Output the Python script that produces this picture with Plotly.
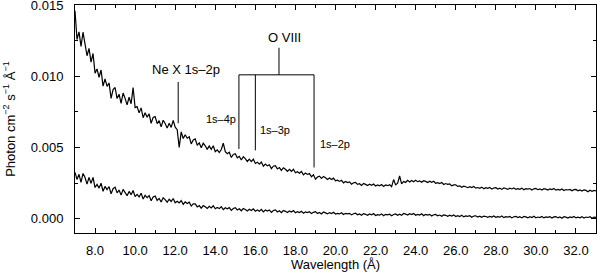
import plotly.graph_objects as go

# Wavelength grid (Angstrom)
WAVELENGTH = [
    7.0, 7.1, 7.2, 7.3, 7.4, 7.5, 7.6, 7.7, 7.8, 7.9,
    8.0, 8.1, 8.2, 8.3, 8.4, 8.5, 8.6, 8.7, 8.8, 8.9,
    9.0, 9.1, 9.2, 9.3, 9.4, 9.5, 9.6, 9.7, 9.8, 9.9,
    10.0, 10.1, 10.2, 10.3, 10.4, 10.5, 10.6, 10.7, 10.8, 10.9,
    11.0, 11.1, 11.2, 11.3, 11.4, 11.5, 11.6, 11.7, 11.8, 11.9,
    12.0, 12.1, 12.2, 12.3, 12.4, 12.5, 12.6, 12.7, 12.8, 12.9,
    13.0, 13.1, 13.2, 13.3, 13.4, 13.5, 13.6, 13.7, 13.8, 13.9,
    14.0, 14.1, 14.2, 14.3, 14.4, 14.5, 14.6, 14.7, 14.8, 14.9,
    15.0, 15.1, 15.2, 15.3, 15.4, 15.5, 15.6, 15.7, 15.8, 15.9,
    16.0, 16.1, 16.2, 16.3, 16.4, 16.5, 16.6, 16.7, 16.8, 16.9,
    17.0, 17.1, 17.2, 17.3, 17.4, 17.5, 17.6, 17.7, 17.8, 17.9,
    18.0, 18.1, 18.2, 18.3, 18.4, 18.5, 18.6, 18.7, 18.8, 18.9,
    19.0, 19.1, 19.2, 19.3, 19.4, 19.5, 19.6, 19.7, 19.8, 19.9,
    20.0, 20.1, 20.2, 20.3, 20.4, 20.5, 20.6, 20.7, 20.8, 20.9,
    21.0, 21.1, 21.2, 21.3, 21.4, 21.5, 21.6, 21.7, 21.8, 21.9,
    22.0, 22.1, 22.2, 22.3, 22.4, 22.5, 22.6, 22.7, 22.8, 22.9,
    23.0, 23.1, 23.2, 23.3, 23.4, 23.5, 23.6, 23.7, 23.8, 23.9,
    24.0, 24.1, 24.2, 24.3, 24.4, 24.5, 24.6, 24.7, 24.8, 24.9,
    25.0, 25.1, 25.2, 25.3, 25.4, 25.5, 25.6, 25.7, 25.8, 25.9,
    26.0, 26.1, 26.2, 26.3, 26.4, 26.5, 26.6, 26.7, 26.8, 26.9,
    27.0, 27.1, 27.2, 27.3, 27.4, 27.5, 27.6, 27.7, 27.8, 27.9,
    28.0, 28.1, 28.2, 28.3, 28.4, 28.5, 28.6, 28.7, 28.8, 28.9,
    29.0, 29.1, 29.2, 29.3, 29.4, 29.5, 29.6, 29.7, 29.8, 29.9,
    30.0, 30.1, 30.2, 30.3, 30.4, 30.5, 30.6, 30.7, 30.8, 30.9,
    31.0, 31.1, 31.2, 31.3, 31.4, 31.5, 31.6, 31.7, 31.8, 31.9,
    32.0, 32.1, 32.2, 32.3, 32.4, 32.5, 32.6, 32.7, 32.8, 32.9,
    33.0,
]

# Upper spectrum flux, in units of 1e-3 photon cm^-2 s^-1 A^-1
UPPER_FLUX_MILLI = [
    14.6, 12.58, 13.11, 12.1, 13.09, 12.37, 11.44, 11.95, 10.99, 11.6,
    10.22, 10.51, 9.93, 10.44, 9.31, 9.82, 9.29, 9.53, 8.45, 9.07,
    9.21, 8.43, 8.74, 8.1, 8.82, 8.45, 7.99, 8.53, 8.07, 9.2,
    7.8, 7.87, 7.43, 7.78, 7.09, 7.44, 7.13, 7.36, 6.7, 7.11,
    7.17, 6.67, 6.89, 6.45, 6.91, 6.68, 6.36, 6.7, 6.41, 6.9,
    6.43, 6.25, 5.0, 6.1, 5.63, 5.9, 5.65, 5.75, 5.25, 5.53,
    5.6, 5.17, 5.32, 4.98, 5.3, 5.12, 4.87, 5.11, 4.88, 5.12,
    4.71, 4.84, 4.65, 4.86, 5.3, 4.71, 4.56, 4.67, 4.3, 4.51,
    4.56, 4.28, 4.38, 4.12, 4.35, 4.22, 4.02, 4.18, 4.01, 4.18,
    3.88, 3.97, 3.83, 3.98, 3.69, 3.84, 3.71, 3.79, 3.52, 3.69,
    3.73, 3.5, 3.59, 3.39, 3.58, 3.47, 3.33, 3.47, 3.33, 3.47,
    3.23, 3.3, 3.19, 3.32, 3.08, 3.21, 3.11, 3.17, 2.95, 3.08,
    2.78, 2.93, 2.99, 2.83, 2.97, 2.88, 2.76, 2.86, 2.75, 2.85,
    2.66, 2.71, 2.62, 2.7, 2.52, 2.62, 2.54, 2.59, 2.43, 2.53,
    2.55, 2.41, 2.46, 2.34, 2.47, 2.41, 2.33, 2.42, 2.35, 2.44,
    2.3, 2.37, 2.31, 2.4, 2.27, 2.37, 2.32, 2.39, 2.26, 2.75,
    2.38, 2.5, 3.0, 2.45, 2.62, 2.55, 2.7, 2.58, 2.69, 2.6,
    2.7, 2.6, 2.65, 2.56, 2.67, 2.62, 2.54, 2.63, 2.56, 2.63,
    2.49, 2.53, 2.47, 2.54, 2.4, 2.47, 2.41, 2.44, 2.31, 2.38,
    2.38, 2.27, 2.31, 2.21, 2.29, 2.25, 2.18, 2.25, 2.19, 2.26,
    2.15, 2.19, 2.14, 2.22, 2.11, 2.18, 2.14, 2.19, 2.08, 2.16,
    2.18, 2.09, 2.14, 2.06, 2.16, 2.12, 2.06, 2.14, 2.09, 2.16,
    2.06, 2.11, 2.07, 2.15, 2.04, 2.11, 2.08, 2.12, 2.02, 2.1,
    2.13, 2.04, 2.1, 2.02, 2.11, 2.08, 2.02, 2.1, 2.05, 2.12,
    2.01, 2.06, 2.01, 2.09, 1.98, 2.05, 2.02, 2.06, 1.96, 2.04,
    2.06, 1.96, 2.02, 1.94, 2.03, 1.99, 1.9, 2.0, 1.93, 1.99,
    1.95,
]

# Lower spectrum flux, in units of 1e-3 photon cm^-2 s^-1 A^-1
LOWER_FLUX_MILLI = [
    3.26, 2.76, 3.12, 2.55, 3.18, 2.89, 2.43, 2.9, 2.48, 2.9,
    2.19, 2.41, 2.15, 2.49, 1.93, 2.27, 2.04, 2.26, 1.75, 2.11,
    2.22, 1.82, 2.02, 1.66, 2.06, 1.88, 1.62, 1.92, 1.69, 1.98,
    1.55, 1.71, 1.53, 1.79, 1.38, 1.64, 1.48, 1.63, 1.26, 1.53,
    1.59, 1.29, 1.43, 1.18, 1.47, 1.34, 1.16, 1.37, 1.21, 1.42,
    1.12, 1.23, 1.11, 1.28, 1.01, 1.18, 1.07, 1.16, 0.89, 1.05,
    1.04, 0.83, 0.92, 0.74, 0.92, 0.84, 0.72, 0.87, 0.76, 0.91,
    0.7, 0.79, 0.71, 0.84, 0.64, 0.77, 0.7, 0.78, 0.59, 0.72,
    0.78, 0.62, 0.7, 0.56, 0.72, 0.65, 0.55, 0.67, 0.58, 0.7,
    0.53, 0.61, 0.53, 0.66, 0.48, 0.61, 0.54, 0.62, 0.45, 0.58,
    0.62, 0.48, 0.56, 0.43, 0.58, 0.52, 0.44, 0.55, 0.47, 0.58,
    0.42, 0.49, 0.43, 0.52, 0.39, 0.48, 0.43, 0.49, 0.36, 0.45,
    0.5, 0.37, 0.44, 0.33, 0.47, 0.41, 0.34, 0.43, 0.37, 0.46,
    0.33, 0.38, 0.34, 0.42, 0.3, 0.38, 0.34, 0.38, 0.27, 0.35,
    0.39, 0.28, 0.34, 0.24, 0.36, 0.31, 0.24, 0.33, 0.27, 0.36,
    0.23, 0.29, 0.25, 0.34, 0.21, 0.31, 0.27, 0.32, 0.21, 0.3,
    0.34, 0.25, 0.32, 0.24, 0.37, 0.33, 0.26, 0.35, 0.29, 0.37,
    0.25, 0.31, 0.26, 0.35, 0.22, 0.31, 0.26, 0.31, 0.19, 0.28,
    0.3, 0.21, 0.26, 0.18, 0.27, 0.24, 0.17, 0.25, 0.19, 0.27,
    0.16, 0.21, 0.16, 0.24, 0.13, 0.2, 0.17, 0.21, 0.11, 0.19,
    0.21, 0.12, 0.18, 0.1, 0.19, 0.16, 0.1, 0.17, 0.12, 0.2,
    0.1, 0.15, 0.11, 0.19, 0.08, 0.15, 0.12, 0.16, 0.06, 0.14,
    0.17, 0.08, 0.14, 0.06, 0.16, 0.13, 0.06, 0.14, 0.09, 0.17,
    0.07, 0.12, 0.08, 0.16, 0.06, 0.13, 0.1, 0.15, 0.05, 0.13,
    0.15, 0.06, 0.12, 0.04, 0.14, 0.11, 0.05, 0.13, 0.08, 0.16,
    0.06, 0.11, 0.07, 0.15, 0.05, 0.12, 0.09, 0.14, 0.04, 0.12,
    0.1,
]

MILLI = 1e-3
UPPER_FLUX = [v * MILLI for v in UPPER_FLUX_MILLI]
LOWER_FLUX = [v * MILLI for v in LOWER_FLUX_MILLI]

# Line identifications
NE_X_LABEL = "Ne X 1s\u20132p"
NE_X_WAVE = 12.15
NE_X_SPAN = [0.0067, 0.0096]
NE_X_LABEL_POS = [12.53, 0.0105]

O8_LABEL = "O VIII"
O8_LABEL_POS = [17.44, 0.01272]
O8_STEM_X = 17.18
O8_STEM_SPAN = [0.0101, 0.0120]
O8_BAR_Y = 0.0101
O8_TRANSITIONS = ["1s\u20134p", "1s\u20133p", "1s\u20132p"]
O8_WAVES = [15.18, 16.0, 18.93]
O8_LINE_BOTTOM = [0.0049, 0.0048, 0.0036]
O8_TEXT_X = [14.27, 16.97, 19.96]
O8_TEXT_Y = [0.0070, 0.00623, 0.00525]

FONT = "Liberation Sans, Arial, Helvetica, sans-serif"

fig = go.Figure()
fig.add_trace(go.Scatter(x=WAVELENGTH, y=UPPER_FLUX, mode="lines",
                         line=dict(color="black", width=1.2), showlegend=False))
fig.add_trace(go.Scatter(x=WAVELENGTH, y=LOWER_FLUX, mode="lines",
                         line=dict(color="black", width=1.2), showlegend=False))

line_style = dict(color="black", width=1)
fig.add_shape(type="line", x0=NE_X_WAVE, x1=NE_X_WAVE, y0=NE_X_SPAN[0], y1=NE_X_SPAN[1],
              line=line_style)
fig.add_shape(type="line", x0=O8_STEM_X, x1=O8_STEM_X, y0=O8_STEM_SPAN[0], y1=O8_STEM_SPAN[1],
              line=line_style)
fig.add_shape(type="line", x0=O8_WAVES[0], x1=O8_WAVES[-1], y0=O8_BAR_Y, y1=O8_BAR_Y,
              line=line_style)
for w, b in zip(O8_WAVES, O8_LINE_BOTTOM):
    fig.add_shape(type="line", x0=w, x1=w, y0=b, y1=O8_BAR_Y, line=line_style)

fig.add_annotation(x=NE_X_LABEL_POS[0], y=NE_X_LABEL_POS[1], text=NE_X_LABEL,
                   showarrow=False, font=dict(size=13, color="black", family=FONT))
fig.add_annotation(x=O8_LABEL_POS[0], y=O8_LABEL_POS[1], text=O8_LABEL,
                   showarrow=False, font=dict(size=13, color="black", family=FONT))
for t, tx, ty in zip(O8_TRANSITIONS, O8_TEXT_X, O8_TEXT_Y):
    fig.add_annotation(x=tx, y=ty, text=t, showarrow=False,
                       font=dict(size=11, color="black", family=FONT))

fig.update_layout(
    width=597, height=272,
    margin=dict(l=75, r=1, t=5, b=39, autoexpand=False),
    paper_bgcolor="white", plot_bgcolor="white",
    font=dict(family=FONT, size=13, color="black"),
    xaxis=dict(
        range=[7, 33], tickmode="linear", tick0=8, dtick=2, tickformat=".1f",
        ticks="inside", ticklen=5, tickcolor="black", showline=True, linecolor="black",
        linewidth=1, mirror="ticks", showgrid=False, zeroline=False, automargin=False,
        minor=dict(dtick=1, ticks="inside", ticklen=3, tickcolor="black", showgrid=False),
        title=dict(text="Wavelength (Å)", font=dict(size=13), standoff=3),
        ticklabelstandoff=5, ticklabeloverflow="allow",
    ),
    yaxis=dict(
        range=[-0.001, 0.0150001], tickmode="linear", tick0=0, dtick=0.005, tickformat=".3f",
        ticks="inside", ticklen=5, tickcolor="black", showline=True, linecolor="black",
        linewidth=1, mirror="ticks", showgrid=False, zeroline=False, automargin=False,
        minor=dict(dtick=0.0025, ticks="inside", ticklen=3, tickcolor="black", showgrid=False),
        title=dict(text="Photon cm<sup>\u22122</sup> s<sup>\u22121</sup> Å<sup>\u22121</sup>",
                   font=dict(size=13), standoff=12),
        ticklabelstandoff=8, ticklabeloverflow="allow",
    ),
)

fig.write_html("out.html", config={"displayModeBar": False},
               post_script="document.body.style.margin='0';document.body.style.overflow='hidden';")
